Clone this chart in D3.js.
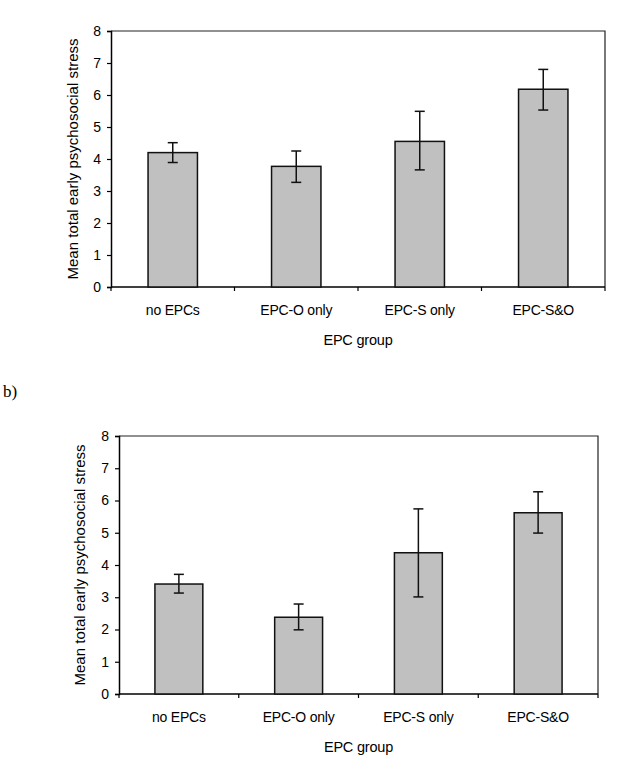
<!DOCTYPE HTML>
<html lang="en">
	<head>
		<title>EPC group bar charts</title>
		<style type="text/css">
			body {
				margin: 0;
				background-color: #ffffff;
			}
			svg text {
				font-family: "Liberation Sans", Arial, sans-serif;
				fill: #000;
			}
			.panel-label {
				font-family: "Liberation Serif", "Times New Roman", serif;
			}
		</style>
		<script src="https://d3js.org/d3.v7.min.js"></script>
	</head>
	<body>
		<div id="display"></div>
		<script>

			// data
			var groups = ["no EPCs", "EPC-O only", "EPC-S only", "EPC-S&O"];
			var yTicks = [0, 1, 2, 3, 4, 5, 6, 7, 8];

			// panel a
			var meansA = [4.20, 3.77, 4.55, 6.18];
			var lowA   = [3.89, 3.27, 3.66, 5.53];
			var highA  = [4.51, 4.25, 5.49, 6.80];

			// panel b
			var meansB = [3.41, 2.38, 4.38, 5.62];
			var lowB   = [3.13, 1.99, 3.01, 4.99];
			var highB  = [3.71, 2.79, 5.74, 6.27];

			var svg = d3.select("#display")
				.append("svg")
				.attr("width", 619)
				.attr("height", 763);

			// panel label
			svg.append("text")
				.attr("class", "panel-label")
				.attr("x", 3)
				.attr("y", 397)
				.style("font-size", "17px")
				.text("b)");

			function drawPanel(box, means, low, high)
			{
				var x = d3.scaleBand()
					.domain(groups)
					.range([box.left, box.right])
					.paddingInner(0.6)
					.paddingOuter(0.3);

				var y = d3.scaleLinear()
					.domain([0, 8])
					.range([box.bottom, box.top]);

				var g = svg.append("g");

				// plot frame (top and right)
				g.append("path")
					.attr("d", "M" + box.left + "," + box.top + "H" + box.right + "V" + box.bottom)
					.attr("fill", "none")
					.attr("stroke", "#222")
					.attr("stroke-width", 1.2);

				// y axis
				var yAxis = g.append("g")
					.attr("transform", "translate(" + box.left + ",0)")
					.call(d3.axisLeft(y).tickValues(yTicks).tickSize(4).tickPadding(6).tickFormat(d3.format("d")));
				yAxis.select(".domain").attr("stroke", "#000").attr("stroke-width", 1.5);
				yAxis.selectAll(".tick line").attr("stroke", "#000").attr("stroke-width", 1.2);
				yAxis.selectAll("text").style("font-size", "14px");

				// x axis: ticks at category boundaries
				var step = (box.right - box.left) / groups.length;
				var bounds = d3.range(groups.length + 1);
				g.append("line")
					.attr("x1", box.left).attr("x2", box.right)
					.attr("y1", box.bottom).attr("y2", box.bottom)
					.attr("stroke", "#000").attr("stroke-width", 1.5);
				g.selectAll(".xtick")
					.data(bounds)
					.enter().append("line")
					.attr("class", "xtick")
					.attr("x1", function(d) { return box.left + d * step; })
					.attr("x2", function(d) { return box.left + d * step; })
					.attr("y1", box.bottom)
					.attr("y2", box.bottom + 4)
					.attr("stroke", "#000").attr("stroke-width", 1.2);

				g.selectAll(".xlabel")
					.data(groups)
					.enter().append("text")
					.attr("class", "xlabel")
					.attr("x", function(d) { return x(d) + x.bandwidth() / 2; })
					.attr("y", box.bottom + 28)
					.attr("text-anchor", "middle")
					.style("font-size", "14px")
					.style("letter-spacing", "-0.2px")
					.text(function(d) { return d; });

				// bars
				g.selectAll(".bar")
					.data(groups)
					.enter().append("rect")
					.attr("class", "bar")
					.attr("x", function(d) { return x(d); })
					.attr("width", x.bandwidth())
					.attr("y", function(d, i) { return y(means[i]); })
					.attr("height", function(d, i) { return y(0) - y(means[i]); })
					.attr("fill", "#c0c0c0")
					.attr("stroke", "#111")
					.attr("stroke-width", 1.5);

				// error bars
				var cap = 5;
				var eb = g.selectAll(".err")
					.data(groups)
					.enter().append("g")
					.attr("class", "err")
					.attr("stroke", "#111")
					.attr("stroke-width", 1.5);
				eb.append("line")
					.attr("x1", function(d) { return x(d) + x.bandwidth() / 2; })
					.attr("x2", function(d) { return x(d) + x.bandwidth() / 2; })
					.attr("y1", function(d, i) { return y(low[i]); })
					.attr("y2", function(d, i) { return y(high[i]); });
				eb.append("line")
					.attr("x1", function(d) { return x(d) + x.bandwidth() / 2 - cap; })
					.attr("x2", function(d) { return x(d) + x.bandwidth() / 2 + cap; })
					.attr("y1", function(d, i) { return y(high[i]); })
					.attr("y2", function(d, i) { return y(high[i]); });
				eb.append("line")
					.attr("x1", function(d) { return x(d) + x.bandwidth() / 2 - cap; })
					.attr("x2", function(d) { return x(d) + x.bandwidth() / 2 + cap; })
					.attr("y1", function(d, i) { return y(low[i]); })
					.attr("y2", function(d, i) { return y(low[i]); });

				// axis titles
				g.append("text")
					.attr("x", (box.left + box.right) / 2)
					.attr("y", box.bottom + 58)
					.attr("text-anchor", "middle")
					.style("font-size", "14.5px")
					.style("letter-spacing", "-0.2px")
					.text("EPC group");

				g.append("text")
					.attr("transform", "translate(" + box.titleX + "," + ((box.top + box.bottom) / 2) + ") rotate(-90)")
					.attr("text-anchor", "middle")
					.style("font-size", "15px")
					.text("Mean total early psychosocial stress");
			}

			drawPanel({left: 111, right: 605, top: 31, bottom: 287, titleX: 78}, meansA, lowA, highA);
			drawPanel({left: 119, right: 598, top: 436, bottom: 694, titleX: 85}, meansB, lowB, highB);

		</script>
	</body>
</html>
